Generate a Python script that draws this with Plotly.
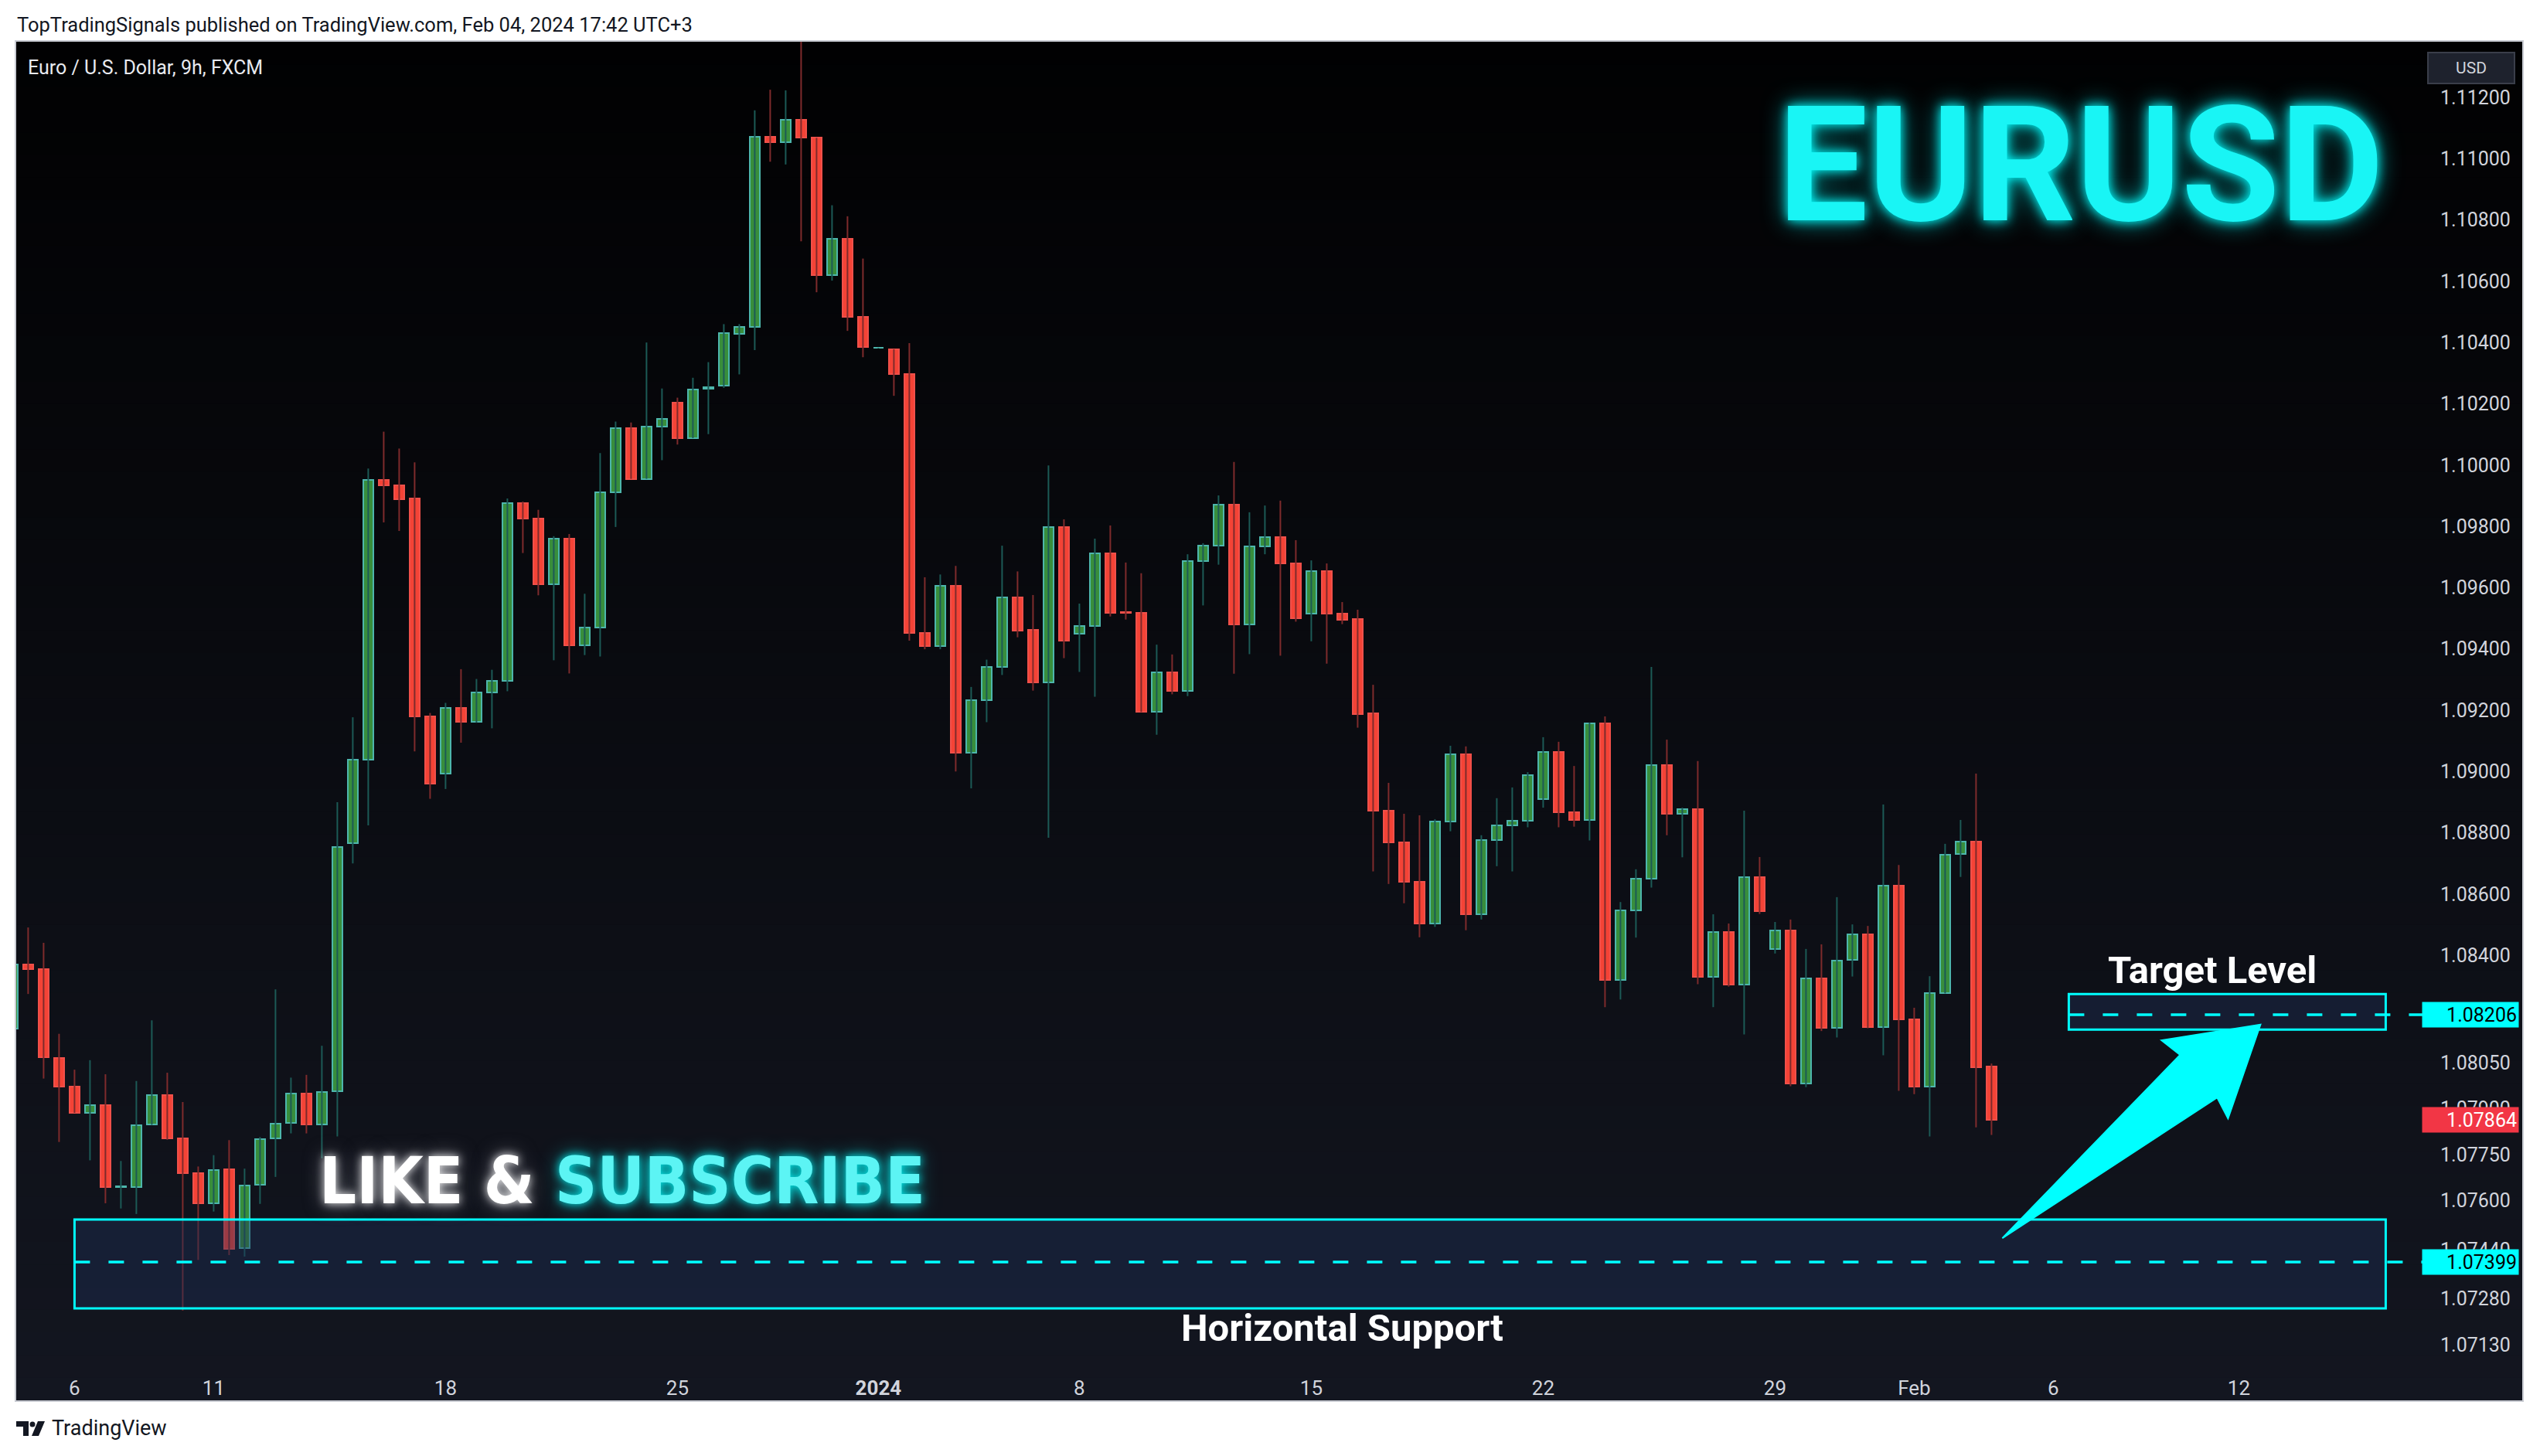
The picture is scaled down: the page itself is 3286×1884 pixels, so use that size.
import plotly.graph_objects as go

# ---------------- data (9h EURUSD candles, bar index; 0 = first bar of Dec 6) ----------------
bar_index = list(range(-4, 125))
opens = [1.08160, 1.08370, 1.08354, 1.08066, 1.07971, 1.07886, 1.07910, 1.07645, 1.07645, 1.07847,
         1.07944, 1.07802, 1.07689, 1.07591, 1.07701, 1.07445, 1.07651, 1.07802, 1.07853, 1.07949,
         1.07848, 1.07957, 1.08766, 1.09038, 1.09951, 1.09935, 1.09890, 1.09181, 1.08992, 1.09208,
         1.09163, 1.09258, 1.09296, 1.09875, 1.09825, 1.09610, 1.09759, 1.09412, 1.09471, 1.09912,
         1.10121, 1.09955, 1.10126, 1.10204, 1.10088, 1.10249, 1.10259, 1.10429, 1.10452, 1.11072,
         1.11053, 1.11128, 1.11068, 1.10620, 1.10739, 1.10483, 1.10382, 1.10378, 1.10296, 1.09452,
         1.09410, 1.09606, 1.09061, 1.09233, 1.09342, 1.09568, 1.09462, 1.09292, 1.09797, 1.09449,
         1.09474, 1.09711, 1.09521, 1.09517, 1.09194, 1.09323, 1.09262, 1.09688, 1.09738, 1.09872,
         1.09479, 1.09735, 1.09766, 1.09678, 1.09515, 1.09653, 1.09515, 1.09497, 1.09189, 1.08873,
         1.08768, 1.08639, 1.08503, 1.08838, 1.09055, 1.08533, 1.08777, 1.08825, 1.08840, 1.08909,
         1.09065, 1.08866, 1.08841, 1.09156, 1.08319, 1.08548, 1.08649, 1.09022, 1.08861, 1.08876,
         1.08329, 1.08475, 1.08304, 1.08654, 1.08420, 1.08480, 1.07983, 1.08324, 1.08163, 1.08385,
         1.08468, 1.08167, 1.08628, 1.08192, 1.07971, 1.08276, 1.08730, 1.08772, 1.08037]
highs = [1.08450, 1.08491, 1.08441, 1.08144, 1.08027, 1.08058, 1.08012, 1.07729, 1.07990, 1.08188,
         1.08017, 1.07921, 1.07711, 1.07748, 1.07797, 1.07704, 1.07807, 1.08289, 1.08001, 1.08010,
         1.08105, 1.08900, 1.09177, 1.09989, 1.10109, 1.10054, 1.10009, 1.09191, 1.09224, 1.09334,
         1.09302, 1.09332, 1.09891, 1.09881, 1.09854, 1.09768, 1.09775, 1.09580, 1.10039, 1.10142,
         1.10139, 1.10400, 1.10250, 1.10220, 1.10285, 1.10336, 1.10460, 1.10460, 1.11158, 1.11225,
         1.11223, 1.11390, 1.11068, 1.10848, 1.10812, 1.10674, 1.10383, 1.10378, 1.10398, 1.09634,
         1.09643, 1.09671, 1.09276, 1.09365, 1.09737, 1.09653, 1.09576, 1.09999, 1.09823, 1.09548,
         1.09760, 1.09803, 1.09682, 1.09647, 1.09414, 1.09382, 1.09709, 1.09745, 1.09901, 1.10010,
         1.09846, 1.09868, 1.09884, 1.09755, 1.09689, 1.09679, 1.09553, 1.09528, 1.09283, 1.08963,
         1.08862, 1.08857, 1.08844, 1.09084, 1.09082, 1.08792, 1.08913, 1.08948, 1.08998, 1.09112,
         1.09097, 1.09018, 1.09160, 1.09180, 1.08574, 1.08681, 1.09341, 1.09104, 1.08882, 1.09034,
         1.08534, 1.08504, 1.08872, 1.08721, 1.08509, 1.08517, 1.08421, 1.08436, 1.08590, 1.08501,
         1.08496, 1.08892, 1.08695, 1.08229, 1.08332, 1.08764, 1.08842, 1.08993, 1.08047]
lows = [1.08120, 1.08274, 1.07998, 1.07791, 1.07886, 1.07731, 1.07591, 1.07574, 1.07556, 1.07847,
        1.07798, 1.07241, 1.07406, 1.07564, 1.07422, 1.07417, 1.07589, 1.07677, 1.07819, 1.07819,
        1.07738, 1.07809, 1.08700, 1.08824, 1.09813, 1.09785, 1.09066, 1.08911, 1.08943, 1.09094,
        1.09159, 1.09141, 1.09262, 1.09713, 1.09575, 1.09363, 1.09320, 1.09380, 1.09375, 1.09798,
        1.09955, 1.09955, 1.10016, 1.10067, 1.10088, 1.10101, 1.10252, 1.10296, 1.10375, 1.10990,
        1.10981, 1.10730, 1.10564, 1.10602, 1.10438, 1.10352, 1.10381, 1.10226, 1.09427, 1.09399,
        1.09399, 1.09000, 1.08945, 1.09161, 1.09315, 1.09438, 1.09264, 1.08784, 1.09370, 1.09325,
        1.09244, 1.09506, 1.09496, 1.09194, 1.09120, 1.09252, 1.09246, 1.09542, 1.09675, 1.09319,
        1.09383, 1.09709, 1.09378, 1.09489, 1.09425, 1.09352, 1.09481, 1.09143, 1.08674, 1.08633,
        1.08570, 1.08459, 1.08493, 1.08805, 1.08482, 1.08517, 1.08691, 1.08674, 1.08818, 1.08882,
        1.08818, 1.08820, 1.08775, 1.08231, 1.08256, 1.08458, 1.08621, 1.08792, 1.08720, 1.08306,
        1.08231, 1.08298, 1.08142, 1.08535, 1.08406, 1.07973, 1.07970, 1.08153, 1.08132, 1.08331,
        1.08162, 1.08074, 1.07958, 1.07947, 1.07809, 1.08276, 1.08656, 1.07839, 1.07814]
closes = [1.08370, 1.08356, 1.08067, 1.07972, 1.07886, 1.07910, 1.07645, 1.07647, 1.07846, 1.07944,
          1.07802, 1.07689, 1.07591, 1.07700, 1.07443, 1.07650, 1.07801, 1.07851, 1.07949, 1.07848,
          1.07955, 1.08754, 1.09038, 1.09951, 1.09934, 1.09889, 1.09181, 1.08961, 1.09208, 1.09163,
          1.09258, 1.09296, 1.09875, 1.09825, 1.09610, 1.09759, 1.09412, 1.09471, 1.09912, 1.10121,
          1.09955, 1.10126, 1.10152, 1.10088, 1.10247, 1.10255, 1.10431, 1.10452, 1.11072, 1.11053,
          1.11128, 1.11068, 1.10620, 1.10739, 1.10483, 1.10385, 1.10382, 1.10296, 1.09452, 1.09410,
          1.09606, 1.09061, 1.09233, 1.09342, 1.09568, 1.09461, 1.09292, 1.09797, 1.09426, 1.09474,
          1.09711, 1.09518, 1.09517, 1.09194, 1.09323, 1.09262, 1.09688, 1.09738, 1.09872, 1.09479,
          1.09735, 1.09766, 1.09678, 1.09501, 1.09653, 1.09515, 1.09496, 1.09188, 1.08873, 1.08768,
          1.08639, 1.08503, 1.08838, 1.09055, 1.08533, 1.08777, 1.08825, 1.08840, 1.08987, 1.09065,
          1.08866, 1.08841, 1.09156, 1.08319, 1.08548, 1.08649, 1.09022, 1.08861, 1.08876, 1.08329,
          1.08475, 1.08304, 1.08654, 1.08545, 1.08480, 1.07983, 1.08324, 1.08163, 1.08384, 1.08468,
          1.08167, 1.08628, 1.08192, 1.07971, 1.08276, 1.08729, 1.08772, 1.08034, 1.07864]

x_tick_index = [0, 9, 24, 39, 52, 65, 80, 95, 110, 119, 128, 140]
x_tick_text = ["6", "11", "18", "25", "<b>2024</b>", "8", "15", "22", "29", "Feb", "6", "12"]
y_tick_values = [1.112, 1.110, 1.108, 1.106, 1.104, 1.102, 1.100, 1.098, 1.096, 1.094, 1.092,
                 1.090, 1.088, 1.086, 1.084, 1.0805, 1.079, 1.0775, 1.076, 1.0744, 1.0728, 1.0713]

support_level = 1.07399
support_zone = (1.07248, 1.07538)
target_level = 1.08206
target_zone = (1.08158, 1.08274)
last_price = closes[-1]

# ---------------- geometry ----------------
W, H = 3286, 1884
ML, MR, MT, MB = 21, 146, 54, 119
PW, PH = W - ML - MR, H - MT - MB


def px(X):
    return (X - ML) / PW


def py(Y):
    return (H - MB - Y) / PH


UP_FILL, UP_EDGE, UP_WICK = "#388e3c", "#4db6ac", "#1c5a56"
DN_FILL, DN_EDGE, DN_WICK = "#f44336", "#f0504a", "#7e2b2c"
CYAN = "#00ffff"
ZONE_FILL = "rgba(30,48,88,0.42)"

fig = go.Figure()

# wicks
for is_up, col in ((True, UP_WICK), (False, DN_WICK)):
    wx, wy = [], []
    for i, o, h, l, c in zip(bar_index, opens, highs, lows, closes):
        if (c >= o) == is_up:
            wx += [i, i, None]
            wy += [l, h, None]
    fig.add_trace(go.Scatter(x=wx, y=wy, mode="lines", line=dict(color=col, width=2),
                             hoverinfo="skip", showlegend=False))

# bodies
ups = [c >= o for o, c in zip(opens, closes)]
fig.add_trace(go.Bar(
    x=bar_index,
    y=[max(abs(c - o), 0.00001) for o, c in zip(opens, closes)],
    base=[min(o, c) for o, c in zip(opens, closes)],
    width=0.66,
    marker=dict(color=[UP_FILL if u else DN_FILL for u in ups],
                line=dict(color=[UP_EDGE if u else DN_EDGE for u in ups], width=2)),
    hoverinfo="skip", showlegend=False))

shapes = []
# panel gradient background (overlapping bands to avoid seams)
top_c, bot_c = (1, 1, 2), (19, 22, 32)
n_bands = 60
y_top, y_bot = py(MT), py(1812)
step = (y_bot - y_top) / n_bands
for k in range(n_bands):
    t = (k + 0.5) / n_bands
    col = tuple(round(a + (b - a) * t) for a, b in zip(top_c, bot_c))
    y0 = y_top + step * k
    y1 = y_top + step * (k + 1.6) if k < n_bands - 1 else y_bot
    shapes.append(dict(type="rect", xref="paper", yref="paper", layer="below",
                       x0=px(ML), x1=px(3263), y0=y0, y1=y1,
                       line=dict(width=0), fillcolor="rgb(%d,%d,%d)" % col))
# panel frame
shapes.append(dict(type="rect", xref="paper", yref="paper", layer="above",
                   x0=px(ML - 1), x1=px(3264), y0=py(1813), y1=py(MT - 1),
                   line=dict(color="#c9ccd3", width=2), fillcolor="rgba(0,0,0,0)"))

# TradingView logo (footer)
shapes.append(dict(type="path", xref="paper", yref="paper", layer="above",
                   path="M %f,%f L %f,%f L %f,%f L %f,%f L %f,%f L %f,%f Z" % (
                       px(21), py(1839), px(37), py(1839), px(37), py(1858),
                       px(30), py(1858), px(30), py(1846), px(21), py(1846)),
                   line=dict(width=0), fillcolor="#131722"))
shapes.append(dict(type="circle", xref="paper", yref="paper", layer="above",
                   x0=px(38.5), x1=px(45.5), y0=py(1846.5), y1=py(1839.5),
                   line=dict(width=0), fillcolor="#131722"))
shapes.append(dict(type="path", xref="paper", yref="paper", layer="above",
                   path="M %f,%f L %f,%f L %f,%f L %f,%f Z" % (
                       px(49), py(1839), px(58), py(1839), px(50), py(1858), px(41), py(1858)),
                   line=dict(width=0), fillcolor="#131722"))

X_RIGHT = (3140 - 96.4) / 20.0
# horizontal support zone
shapes.append(dict(type="rect", xref="x", yref="y", layer="above",
                   x0=0, x1=149.5, y0=support_zone[0], y1=support_zone[1],
                   line=dict(color=CYAN, width=3), fillcolor=ZONE_FILL))
shapes.append(dict(type="line", xref="x", yref="y", layer="above",
                   x0=0, x1=X_RIGHT, y0=support_level, y1=support_level,
                   line=dict(color=CYAN, width=3.5, dash="20px,24px")))
# target zone
shapes.append(dict(type="rect", xref="x", yref="y", layer="above",
                   x0=129.0, x1=149.5, y0=target_zone[0], y1=target_zone[1],
                   line=dict(color=CYAN, width=3), fillcolor=ZONE_FILL))
shapes.append(dict(type="line", xref="x", yref="y", layer="above",
                   x0=129.0, x1=X_RIGHT, y0=target_level, y1=target_level,
                   line=dict(color=CYAN, width=3.5, dash="20px,24px")))
# arrow (tail -> head), in data units
arrow_pts = [(124.7, 1.07477), (136.2, 1.08075), (135.0, 1.08123), (141.4, 1.08174),
             (139.3, 1.07868), (138.6, 1.07936)]
path = "M %f,%f " % arrow_pts[0] + " ".join("L %f,%f" % p for p in arrow_pts[1:]) + " Z"
shapes.append(dict(type="path", xref="x", yref="y", layer="above", path=path,
                   line=dict(color=CYAN, width=2), fillcolor=CYAN))

annotations = []
# header / footer
annotations.append(dict(xref="paper", yref="paper", x=px(20), y=py(32), xanchor="left", yanchor="middle",
                        text="TopTradingSignals published on TradingView.com, Feb 04, 2024 17:42 UTC+3",
                        showarrow=False, font=dict(family="Roboto", size=25.5, color="#131722")))
annotations.append(dict(xref="paper", yref="paper", x=px(65), y=py(1848), xanchor="left", yanchor="middle",
                        text="TradingView", showarrow=False,
                        font=dict(family="Roboto", size=27, color="#131722")))
annotations.append(dict(xref="paper", yref="paper", x=px(34), y=py(87), xanchor="left", yanchor="middle",
                        text="Euro / U.S. Dollar, 9h, FXCM", showarrow=False,
                        font=dict(family="Roboto", size=25, color="#e8eaf0")))
# USD button
annotations.append(dict(xref="paper", yref="paper", x=px(3197), y=py(88), xanchor="center", yanchor="middle",
                        text="USD", showarrow=False, width=104, height=32,
                        bgcolor="#1e222d", bordercolor="#3a3e4a", borderwidth=2, borderpad=3,
                        font=dict(family="Roboto", size=21, color="#d1d4dc")))
# price labels
for val, bg, fg in ((target_level, CYAN, "#000000"), (last_price, "#f23645", "#ffffff"),
                    (support_level, CYAN, "#000000")):
    annotations.append(dict(xref="paper", yref="y", x=px(3196), y=val, xanchor="center", yanchor="middle",
                            text="%.5f" % val, showarrow=False, width=120, height=28,
                            bgcolor=bg, borderpad=2, align="right",
                            font=dict(family="Roboto", size=25, color=fg)))
# texts on chart
annotations.append(dict(xref="paper", yref="paper", x=px(2692), y=py(214), xanchor="center", yanchor="middle",
                        text="EURUSD", showarrow=False,
                        font=dict(family="Roboto", size=207, color="#19f5f5", weight=700,
                                  shadow="0px 0px 14px #00ffff, 0px 0px 32px rgba(0,255,255,0.65)")))
like_font = "DejaVu Sans Condensed, Roboto Condensed, Arial Narrow, Roboto, sans-serif"
annotations.append(dict(xref="paper", yref="paper", x=px(694), y=py(1528), xanchor="right", yanchor="middle",
                        text="LIKE &", showarrow=False,
                        font=dict(family=like_font, size=84, color="#ffffff", weight=700,
                                  shadow="0px 0px 12px rgba(255,255,255,0.9), 0px 0px 26px rgba(200,200,210,0.5)")))
annotations.append(dict(xref="paper", yref="paper", x=px(716), y=py(1528), xanchor="left", yanchor="middle",
                        text="SUBSCRIBE", showarrow=False,
                        font=dict(family=like_font, size=84, color="#5cf4f4", weight=700,
                                  shadow="0px 0px 12px rgba(0,255,255,0.9), 0px 0px 26px rgba(0,255,255,0.5)")))
annotations.append(dict(xref="paper", yref="paper", x=px(1736), y=py(1718), xanchor="center", yanchor="middle",
                        text="<b>Horizontal Support</b>", showarrow=False,
                        font=dict(family="Roboto", size=49, color="#ffffff")))
annotations.append(dict(xref="paper", yref="paper", x=px(2862), y=py(1255), xanchor="center", yanchor="middle",
                        text="<b>Target Level</b>", showarrow=False,
                        font=dict(family="Roboto", size=49, color="#ffffff")))

y_top_price = 1.112 + (126 - MT) / 39650.0
y_bot_price = 1.112 - (H - MB - 126) / 39650.0
x_left = (ML - 96.4) / 20.0

fig.update_layout(
    width=W, height=H,
    margin=dict(l=ML, r=MR, t=MT, b=MB, pad=0),
    paper_bgcolor="#ffffff", plot_bgcolor="rgba(0,0,0,0)",
    barmode="overlay", bargap=0, showlegend=False,
    shapes=shapes, annotations=annotations,
    xaxis=dict(range=[x_left, X_RIGHT], showgrid=False, zeroline=False, showline=False,
               tickmode="array", tickvals=x_tick_index, ticktext=x_tick_text,
               ticks="outside", ticklen=8, tickcolor="rgba(0,0,0,0)",
               tickfont=dict(family="Roboto", size=26, color="#d1d4dc"), fixedrange=True),
    yaxis=dict(range=[y_bot_price, y_top_price], side="right", showgrid=False, zeroline=False,
               showline=False, tickmode="array", tickvals=y_tick_values,
               ticktext=["%.5f" % v for v in y_tick_values],
               ticks="outside", ticklen=11, tickcolor="rgba(0,0,0,0)",
               tickfont=dict(family="Roboto", size=25, color="#d1d4dc"), fixedrange=True),
)

fig.write_html("out.html", config={"displayModeBar": False},
               post_script="document.body.style.margin='0px';document.body.style.overflow='hidden';")
